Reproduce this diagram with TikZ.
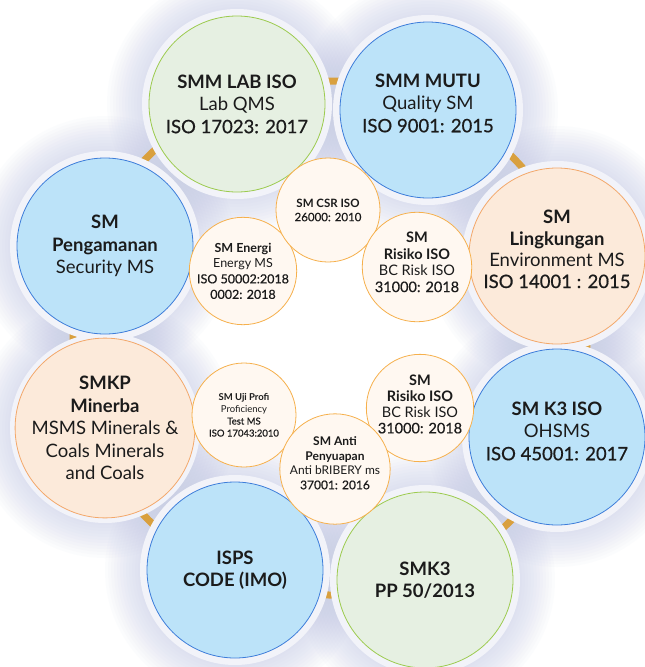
\documentclass[tikz,border=0pt]{standalone}
\usepackage{fontspec}
\setmainfont{Lato}
\newfontfamily\medfont[FakeBold=0.6]{Lato}
\usetikzlibrary{positioning}

\definecolor{ink}{HTML}{1B1B1B}
\definecolor{bluefill}{HTML}{BCE3F9}
\definecolor{blueline}{HTML}{3D7DDA}
\definecolor{greenfill}{HTML}{E6F0E2}
\definecolor{greenline}{HTML}{9CCB4E}
\definecolor{peachfill}{HTML}{FCEADA}
\definecolor{peachline}{HTML}{F3A86A}
\definecolor{creamfill}{HTML}{FFF8F1}
\definecolor{orangeline}{HTML}{F6B04C}
\definecolor{gold}{HTML}{D9A03E}
\definecolor{halo}{HTML}{F2F3F9}
\definecolor{lavender}{HTML}{B9C0E2}

\pgfdeclarelayer{bg}
\pgfsetlayers{bg,main}

\begin{document}
\begin{tikzpicture}[x=1pt, y=-1pt,
    bigcirc/.style={circle, line width=0.8pt, minimum size=176pt, inner sep=0pt, align=center, text=ink, font=\fontsize{18.5}{22.5}\selectfont},
    bluecirc/.style={bigcirc, draw=blueline, fill=bluefill},
    greencirc/.style={bigcirc, draw=greenline, fill=greenfill},
    peachcirc/.style={bigcirc, draw=peachline, fill=peachfill},
    smallcirc/.style={circle, draw=orangeline, fill=creamfill, line width=0.8pt, minimum size=104pt, inner sep=0pt, align=center, text=ink}]
        \useasboundingbox (0,0) rectangle (645,667);
        \coordinate (hub) at (330,338);

        % Outer circles
        \node (lab) [greencirc] at (237,104) {\textbf{SMM LAB ISO}\\Lab QMS\\{\medfont ISO 17023: 2017}};
        \node (mutu) [bluecirc] at (428,110) {\textbf{SMM MUTU}\\Quality SM\\{\medfont ISO 9001: 2015}\\[-8.5pt]\mbox{}};
        \node (lingkungan) [peachcirc, font=\fontsize{18.5}{21.5}\selectfont] at (557,256) {\textbf{SM}\\\textbf{Lingkungan}\\Environment MS\\{\medfont ISO 14001 : 2015}\\[-7.5pt]\mbox{}};
        \node (kiii) [bluecirc] at (557,437) {\textbf{SM K3 ISO}\\OHSMS\\{\medfont ISO 45001: 2017}\\[-10.5pt]\mbox{}};
        \node (smkiii) [greencirc] at (425,580) {\textbf{SMK3}\\\textbf{PP 50/2013}};
        \node (isps) [bluecirc] at (235,570) {\textbf{ISPS}\\\textbf{CODE (IMO)}};
        \node (smkp) [peachcirc] at (105,428) {\textbf{SMKP}\\\textbf{Minerba}\\MSMS Minerals \&\\Coals Minerals\\and Coals};
        \node (pengamanan) [bluecirc] at (105,246) {\textbf{SM}\\\textbf{Pengamanan}\\Security MS};

        % Inner circles
        \node (energi) [smallcirc, font=\fontsize{12.5}{15.5}\selectfont] at (243,271) {\textbf{SM Energi}\\Energy MS\\{\medfont ISO 50002:2018}\\{\medfont 0002: 2018}};
        \node (csr) [smallcirc, font=\fontsize{11.5}{14}\selectfont] at (328,210) {\textbf{SM CSR ISO}\\{\medfont 26000: 2010}};
        \node (risikoa) [smallcirc, font=\fontsize{14.5}{16.5}\selectfont] at (417,267) {\textbf{SM}\\\textbf{Risiko ISO}\\BC Risk ISO\\{\medfont 31000: 2018}\\[-6.5pt]\mbox{}};
        \node (uji) [smallcirc, font=\fontsize{9.5}{12}\selectfont] at (244,415) {\textbf{SM Uji Profi}\\Proficiency\\{\medfont Test MS}\\{\medfont ISO 17043:2010}};
        \node (risikob) [smallcirc, font=\fontsize{14.5}{16}\selectfont] at (420,408) {\textbf{SM}\\\textbf{Risiko ISO}\\BC Risk ISO\\{\medfont 31000: 2018}\\[-8pt]\mbox{}};
        \node (anti) [smallcirc, font=\fontsize{12}{14.5}\selectfont] at (335,469) {\textbf{SM Anti}\\\textbf{Penyuapan}\\Anti bRIBERY ms\\{\medfont 37001: 2016}\\[-2.5pt]\mbox{}};

        % Glow, gold ring and halos
        \begin{pgfonlayer}{bg}
            \fill[white] (0,0) rectangle (645,667);
            \foreach \n in {lab,mutu,lingkungan,kiii,smkiii,isps,smkp,pengamanan}
                \foreach \r in {97,100,...,130}
                    \fill[lavender, opacity=0.045] (\n) circle (\r pt);
            \draw[gold, line width=7pt] (hub) circle (257pt);
            \foreach \n in {lab,mutu,lingkungan,kiii,smkiii,isps,smkp,pengamanan}
                \fill[halo] (\n) circle (95pt);
        \end{pgfonlayer}
    \end{tikzpicture}
\end{document}
